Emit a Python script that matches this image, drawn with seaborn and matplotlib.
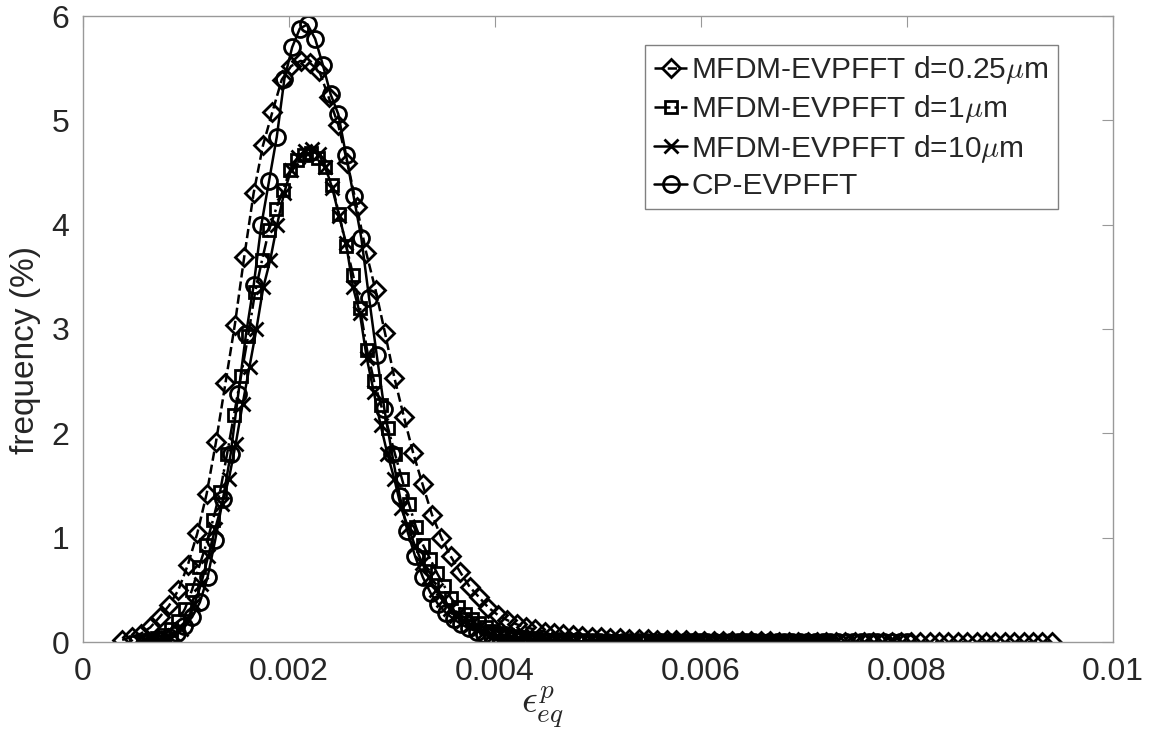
import numpy as np
import pandas as pd
import matplotlib
matplotlib.use("Agg")
import matplotlib.pyplot as plt
import seaborn as sns

# -------------------------------
# Data: histogram of equivalent plastic strain (100 bins per model)
# bin range, frequencies in %
# -------------------------------
LABELS = [
    r"MFDM-EVPFFT d=0.25$\mu$m",
    r"MFDM-EVPFFT d=1$\mu$m",
    r"MFDM-EVPFFT d=10$\mu$m",
    "CP-EVPFFT",
]

# first / last bin centre of each histogram
RANGE_D025 = (0.000380, 0.009405)
RANGE_D1 = (0.000515, 0.007243)
RANGE_D10 = (0.000612, 0.007243)
RANGE_CP = (0.000612, 0.008003)

FREQ_D025 = [
    0.02, 0.05, 0.08, 0.14, 0.24, 0.35, 0.50, 0.74, 1.04, 1.42,
    1.92, 2.48, 3.04, 3.69, 4.30, 4.76, 5.08, 5.39, 5.52, 5.57,
    5.55, 5.47, 5.22, 4.96, 4.59, 4.17, 3.73, 3.37, 2.96, 2.53,
    2.16, 1.81, 1.51, 1.22, 1.00, 0.82, 0.67, 0.53, 0.43, 0.33,
    0.26, 0.21, 0.17, 0.14, 0.12, 0.10, 0.085, 0.075, 0.065, 0.058,
    0.052, 0.046, 0.041, 0.036, 0.032, 0.028, 0.025, 0.022, 0.019, 0.017,
    0.015, 0.013, 0.011, 0.010, 0.009, 0.008, 0.007, 0.006, 0.005, 0.005,
    0.004, 0.004, 0.003, 0.003, 0.003, 0.002, 0.002, 0.002, 0.002, 0.001,
    0.001, 0.001, 0.001, 0.001, 0.001, 0.001, 0.0, 0.0, 0.0, 0.0,
    0.0, 0.0, 0.0, 0.0, 0.0, 0.0, 0.0, 0.0, 0.0, 0.001,
]

FREQ_D1 = [
    0.0, 0.01, 0.02, 0.04, 0.07, 0.12, 0.20, 0.32, 0.50, 0.72,
    0.93, 1.17, 1.44, 1.80, 2.18, 2.55, 2.93, 3.35, 3.66, 3.95,
    4.15, 4.33, 4.52, 4.62, 4.67, 4.69, 4.64, 4.55, 4.38, 4.10,
    3.80, 3.52, 3.20, 2.80, 2.50, 2.27, 2.05, 1.80, 1.56, 1.32,
    1.10, 0.93, 0.80, 0.66, 0.54, 0.42, 0.34, 0.27, 0.22, 0.18,
    0.14, 0.11, 0.09, 0.07, 0.055, 0.045, 0.035, 0.028, 0.022, 0.018,
    0.014, 0.011, 0.009, 0.007, 0.006, 0.005, 0.004, 0.003, 0.003, 0.002,
    0.002, 0.002, 0.001, 0.001, 0.001, 0.001, 0.001, 0.0, 0.0, 0.0,
    0.0, 0.0, 0.0, 0.0, 0.0, 0.0, 0.0, 0.0, 0.0, 0.0,
    0.0, 0.0, 0.0, 0.0, 0.0, 0.0, 0.0, 0.0, 0.0, 0.001,
]

FREQ_D10 = [
    0.0, 0.01, 0.02, 0.04, 0.07, 0.12, 0.22, 0.36, 0.56, 0.82,
    1.08, 1.32, 1.56, 1.90, 2.28, 2.64, 3.00, 3.40, 3.66, 4.00,
    4.30, 4.52, 4.65, 4.71, 4.73, 4.68, 4.55, 4.35, 4.08, 3.82,
    3.40, 3.15, 2.72, 2.40, 2.08, 1.80, 1.56, 1.28, 1.10, 0.92,
    0.76, 0.62, 0.50, 0.40, 0.32, 0.25, 0.20, 0.16, 0.12, 0.10,
    0.08, 0.06, 0.05, 0.04, 0.03, 0.025, 0.02, 0.015, 0.012, 0.010,
    0.008, 0.006, 0.005, 0.004, 0.003, 0.003, 0.002, 0.002, 0.001, 0.001,
    0.001, 0.001, 0.0, 0.0, 0.0, 0.0, 0.0, 0.0, 0.0, 0.0,
    0.0, 0.0, 0.0, 0.0, 0.0, 0.0, 0.0, 0.0, 0.0, 0.0,
    0.0, 0.0, 0.0, 0.0, 0.0, 0.0, 0.0, 0.0, 0.0, 0.001,
]

FREQ_CP = [
    0.0, 0.01, 0.02, 0.05, 0.09, 0.15, 0.24, 0.38, 0.62, 0.98,
    1.37, 1.80, 2.38, 2.95, 3.42, 4.00, 4.42, 4.84, 5.40, 5.70,
    5.88, 5.92, 5.78, 5.53, 5.25, 5.06, 4.67, 4.27, 3.87, 3.30,
    2.75, 2.23, 1.80, 1.40, 1.06, 0.82, 0.62, 0.47, 0.36, 0.28,
    0.22, 0.17, 0.13, 0.10, 0.08, 0.06, 0.05, 0.04, 0.03, 0.025,
    0.02, 0.016, 0.013, 0.010, 0.008, 0.006, 0.005, 0.004, 0.003, 0.003,
    0.002, 0.002, 0.001, 0.001, 0.001, 0.001, 0.0, 0.0, 0.0, 0.0,
    0.0, 0.0, 0.0, 0.0, 0.0, 0.0, 0.0, 0.0, 0.0, 0.0,
    0.0, 0.0, 0.0, 0.0, 0.0, 0.0, 0.0, 0.0, 0.0, 0.0,
    0.0, 0.0, 0.0, 0.0, 0.0, 0.0, 0.0, 0.0, 0.0, 0.001,
]

X_TICKS = [0, 0.002, 0.004, 0.006, 0.008, 0.01]
X_TICK_LABELS = ["0", "0.002", "0.004", "0.006", "0.008", "0.01"]
Y_TICKS = [0, 1, 2, 3, 4, 5, 6]


def bin_centres(rng, freq):
    return np.linspace(rng[0], rng[1], len(freq))


frames = []
for label, rng, freq in zip(
    LABELS,
    [RANGE_D025, RANGE_D1, RANGE_D10, RANGE_CP],
    [FREQ_D025, FREQ_D1, FREQ_D10, FREQ_CP],
):
    frames.append(pd.DataFrame({
        "strain": bin_centres(rng, freq),
        "frequency": freq,
        "model": label,
    }))
df = pd.concat(frames, ignore_index=True)

# -------------------------------
# Styling
# -------------------------------
sns.set_theme(style="white")
plt.rcParams["font.family"] = ["Liberation Sans", "DejaVu Sans"]
plt.rcParams["mathtext.fontset"] = "cm"

STYLES = {
    LABELS[0]: dict(marker="D", ms=9.5, ls="--"),
    LABELS[1]: dict(marker="s", ms=9.0, ls="-."),
    LABELS[2]: dict(marker="x", ms=10.0, ls="-"),
    LABELS[3]: dict(marker="o", ms=11.5, ls="-"),
}

fig = plt.figure(figsize=(11.63, 7.5), dpi=100)
ax = fig.add_axes([83 / 1163, 108 / 750, 1030 / 1163, 626 / 750])

for label in LABELS:
    sub = df[df["model"] == label]
    st = STYLES[label]
    sns.lineplot(
        data=sub, x="strain", y="frequency",
        estimator=None, sort=False,
        color="black", linewidth=1.8, linestyle=st["ls"],
        marker=st["marker"], markersize=st["ms"],
        markerfacecolor="none", markeredgecolor="black",
        markeredgewidth=2.0,
        label=label, ax=ax,
    )

for line in ax.lines:
    line.set_markerfacecolor("none")

ax.set_xlim(0, 0.01)
ax.set_ylim(0, 6)
ax.set_xticks(X_TICKS)
ax.set_xticklabels(X_TICK_LABELS)
ax.set_yticks(Y_TICKS)

ax.tick_params(direction="in", length=8, width=0.8, color="#999999",
               labelsize=23, labelcolor="#262626", top=True, right=True)
ax.tick_params(axis="x", pad=11)
ax.tick_params(axis="y", pad=10)
for sp in ax.spines.values():
    sp.set_color("#999999")
    sp.set_linewidth(1.0)

ax.set_xlabel(r"$\epsilon^p_{eq}$", fontsize=28, color="#262626")
ax.xaxis.set_label_coords((542 - 83) / 1030, -0.068)
ax.set_ylabel("frequency (%)", fontsize=24, color="#262626")
ax.yaxis.set_label_coords(-0.041, (642 - 350) / 626)

leg = ax.legend(
    loc="upper right",
    bbox_to_anchor=((1058 - 83) / 1030, 1 - (45 - 16) / 626),
    borderaxespad=0, fontsize=21.5, frameon=True, fancybox=False,
    framealpha=1, edgecolor="#808080", handlelength=1.1,
    handletextpad=0.15, labelspacing=0.25, borderpad=0.3,
)
leg.get_frame().set_linewidth(1.0)

fig.savefig("out.png", dpi=100)
